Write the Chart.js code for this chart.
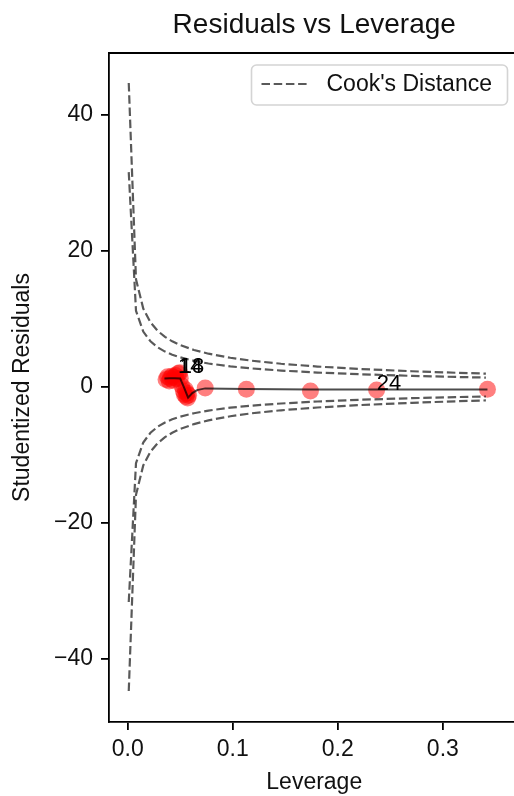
<!DOCTYPE html>
<html>
<head>
<meta charset="utf-8">
<title>Residuals vs Leverage</title>
<script src="https://cdn.jsdelivr.net/npm/chart.js@4.4.1/dist/chart.umd.min.js"></script>
<style>
  html, body { margin: 0; padding: 0; background: #fff; overflow: hidden; }
  #wrap { width: 514px; height: 796px; overflow: hidden; }
  canvas { display: block; }
</style>
</head>
<body>
<div id="wrap"><canvas id="chart" width="528" height="796" style="width:528px;height:796px"></canvas></div>
<script>
// Observations: leverage (hat values) and studentized residuals
const leverage = [
  0.0365, 0.0380, 0.0395, 0.0405, 0.0420, 0.0430, 0.0440, 0.0455, 0.0465, 0.0480,
  0.0495, 0.0500, 0.0515, 0.0530, 0.0540, 0.0555, 0.0565, 0.0570, 0.0580, 0.0550,
  0.0738, 0.1130, 0.1740, 0.2370, 0.3425
];
const residuals = [
  1.10, 1.50, 0.90, 1.30, 1.60, 1.00, 1.40, 1.70, 1.20, 2.00,
  2.10, 1.30, 0.20, -0.60, -1.10, -1.40, -0.90, -1.60, -1.20, -0.40,
  -0.15, -0.34, -0.60, -0.45, -0.34
];

// Observations singled out with their row labels
const labelIndex = [9, 10, 23];
const labelText = ['14', '18', '24'];

// Smoothed trend through the residuals
const trendX = [0.0350, 0.0400, 0.0450, 0.0500, 0.0535, 0.0575, 0.0615, 0.0660, 0.0738, 0.1130, 0.1740, 0.2370, 0.3425];
const trendY = [1.25, 1.30, 1.30, 1.25, 0.00, -1.55, -0.90, -0.45, -0.20, -0.28, -0.35, -0.35, -0.35];

// Cook's distance contours (0.5 and 1) over a leverage grid
const cookGrid = [0.001, 0.0079, 0.0148, 0.0217, 0.0286, 0.0355, 0.0424, 0.0493, 0.0631, 0.0769,
                  0.0977, 0.1184, 0.1460, 0.1806, 0.2221, 0.2706, 0.3121, 0.3410];
const cookOneUpper = [44.70, 15.85, 11.54, 9.50, 8.24, 7.37, 6.72, 6.21, 5.45, 4.90,
                      4.30, 3.86, 3.42, 3.01, 2.65, 2.32, 2.10, 1.97];
const cookOneLower = [-44.70, -15.85, -11.54, -9.50, -8.24, -7.37, -6.72, -6.21, -5.45, -4.90,
                      -4.30, -3.86, -3.42, -3.01, -2.65, -2.32, -2.10, -1.97];
const cookHalfUpper = [31.61, 11.21, 8.16, 6.72, 5.83, 5.21, 4.75, 4.39, 3.85, 3.46,
                       3.04, 2.73, 2.42, 2.13, 1.87, 1.64, 1.48, 1.39];
const cookHalfLower = [-31.61, -11.21, -8.16, -6.72, -5.83, -5.21, -4.75, -4.39, -3.85, -3.46,
                       -3.04, -2.73, -2.42, -2.13, -1.87, -1.64, -1.48, -1.39];

// Axis ticks
const xTicks = [0.0, 0.1, 0.2, 0.3];
const yTicks = [-40, -20, 0, 20, 40];

const FONT = '"Liberation Sans", Arial, Helvetica, sans-serif';
const INK = '#111';
const DASH_COLOR = 'rgba(0,0,0,0.65)';
const DASH = [8.5, 3.7];

const pairs = (xs, ys) => xs.map((v, i) => ({ x: v, y: ys[i] }));

const cookStyle = {
  showLine: true, pointRadius: 0, borderColor: DASH_COLOR, borderWidth: 2.2,
  borderDash: DASH, tension: 0, fill: false, order: 3
};

// Top frame line, row labels and the in-plot legend
const frameAndNotes = {
  id: 'frameAndNotes',
  afterDatasetsDraw(chart) {
    const { ctx, chartArea: a, scales: { x, y } } = chart;
    ctx.save();
    ctx.strokeStyle = '#000';
    ctx.lineWidth = 1.8;
    ctx.beginPath();
    ctx.moveTo(a.left, a.top);
    ctx.lineTo(a.right, a.top);
    ctx.stroke();

    ctx.font = '22px ' + FONT;
    ctx.fillStyle = '#000';
    ctx.textAlign = 'left';
    ctx.textBaseline = 'alphabetic';
    labelIndex.forEach((idx, i) => {
      ctx.fillText(labelText[i], x.getPixelForValue(leverage[idx]), y.getPixelForValue(residuals[idx]));
    });

    const bw = 256, bh = 40;
    const bx = a.right - 12 - bw, by = a.top + 12;
    ctx.beginPath();
    ctx.roundRect(bx, by, bw, bh, 5);
    ctx.fillStyle = 'rgba(255,255,255,0.8)';
    ctx.fill();
    ctx.strokeStyle = '#d4d4d4';
    ctx.lineWidth = 1.6;
    ctx.stroke();

    const my = by + bh / 2 - 1;
    ctx.beginPath();
    ctx.setLineDash(DASH);
    ctx.strokeStyle = DASH_COLOR;
    ctx.lineWidth = 2.2;
    ctx.moveTo(bx + 10, my);
    ctx.lineTo(bx + 57, my);
    ctx.stroke();
    ctx.setLineDash([]);

    ctx.font = '23px ' + FONT;
    ctx.fillStyle = INK;
    ctx.textBaseline = 'middle';
    ctx.fillText("Cook's Distance", bx + 75, my + 1);
    ctx.restore();
  }
};

new Chart(document.getElementById('chart'), {
  type: 'scatter',
  data: {
    datasets: [
      {
        label: 'Observations',
        data: pairs(leverage, residuals),
        pointRadius: 8.5,
        pointHoverRadius: 8.5,
        pointBackgroundColor: 'rgba(255,0,0,0.5)',
        pointBorderWidth: 0,
        showLine: false,
        order: 5
      },
      {
        label: 'Trend',
        data: pairs(trendX, trendY),
        showLine: true,
        pointRadius: 0,
        borderColor: 'rgba(0,0,0,0.7)',
        borderWidth: 2,
        tension: 0,
        order: 4
      },
      Object.assign({ label: "Cook's Distance", data: pairs(cookGrid, cookOneUpper) }, cookStyle),
      Object.assign({ label: 'cook-1-low', data: pairs(cookGrid, cookOneLower) }, cookStyle),
      Object.assign({ label: 'cook-half-up', data: pairs(cookGrid, cookHalfUpper) }, cookStyle),
      Object.assign({ label: 'cook-half-low', data: pairs(cookGrid, cookHalfLower) }, cookStyle)
    ]
  },
  options: {
    responsive: false,
    animation: false,
    devicePixelRatio: 1,
    layout: { padding: { left: 0, right: 0, top: 0, bottom: 0 } },
    plugins: {
      legend: { display: false },
      tooltip: { enabled: false },
      title: {
        display: true,
        fullSize: false,
        text: 'Residuals vs Leverage',
        color: INK,
        font: { family: FONT, size: 28, weight: 'normal' },
        padding: { top: 8, bottom: 11.4 }
      }
    },
    scales: {
      x: {
        type: 'linear',
        position: 'bottom',
        min: -0.0178,
        max: 0.373,
        afterBuildTicks: s => { s.ticks = xTicks.map(v => ({ value: v })); },
        afterFit: s => { s.height = 74; },
        ticks: {
          color: INK,
          font: { family: FONT, size: 23 },
          padding: 6,
          maxRotation: 0,
          autoSkip: false,
          callback: v => Number(v).toFixed(1)
        },
        grid: { display: true, drawOnChartArea: false, drawTicks: true, tickLength: 8, color: '#000', lineWidth: 1.8 },
        border: { display: true, color: '#000', width: 1.8 },
        title: { display: true, text: 'Leverage', color: INK, font: { family: FONT, size: 23 }, padding: { top: 0, bottom: 0 } }
      },
      y: {
        type: 'linear',
        position: 'left',
        min: -49.26,
        max: 49.12,
        afterBuildTicks: s => { s.ticks = yTicks.map(v => ({ value: v })); },
        afterFit: s => { s.width = 109; },
        ticks: {
          color: INK,
          font: { family: FONT, size: 23 },
          padding: 8,
          autoSkip: false,
          callback: v => (v < 0 ? '\u2212' + Math.abs(v) : String(v))
        },
        grid: { display: true, drawOnChartArea: false, drawTicks: true, tickLength: 8, color: '#000', lineWidth: 1.8 },
        border: { display: true, color: '#000', width: 1.8 },
        title: { display: true, text: 'Studentized Residuals', color: INK, font: { family: FONT, size: 23 }, padding: { top: 9, bottom: 0 } }
      }
    }
  },
  plugins: [frameAndNotes]
});
</script>
</body>
</html>
